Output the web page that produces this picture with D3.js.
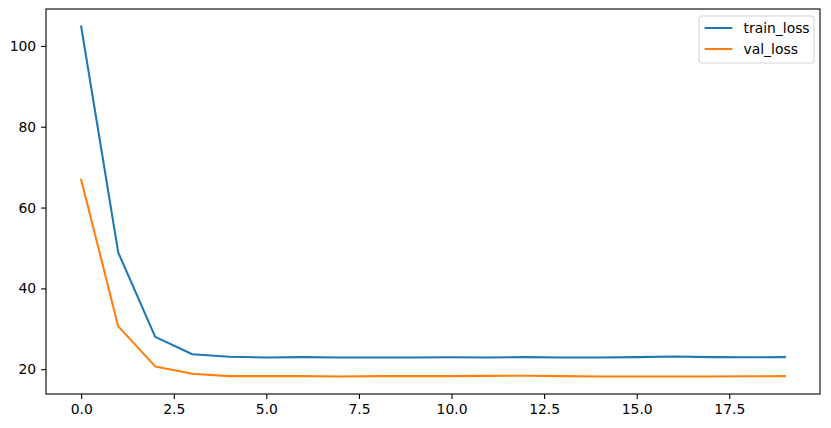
<!DOCTYPE html>
<html lang="en">
<head>
<meta charset="UTF-8"/>
<title>Loss curves</title>
<script src="https://d3js.org/d3.v7.min.js"></script>
<style>
  body { margin: 0; background: #fff; }
  text { font-family: "DejaVu Sans", sans-serif; }
</style>
</head>
<body>
<div id="chart"></div>
<script>
// data
var epochs = d3.range(20);
var trainLoss = [104.8, 48.9, 28.0, 23.7, 23.1, 22.9, 23.0, 22.9, 22.9, 22.9, 22.95, 22.9, 23.0, 22.9, 22.9, 23.0, 23.15, 23.0, 22.95, 23.0];
var valLoss = [66.9, 30.6, 20.7, 18.9, 18.3, 18.3, 18.3, 18.2, 18.3, 18.3, 18.3, 18.35, 18.4, 18.3, 18.2, 18.2, 18.2, 18.2, 18.25, 18.3];
var seriesNames = ["train_loss", "val_loss"];
var colors = ["#1f77b4", "#ff7f0e"];
var xTicks = [0, 2.5, 5, 7.5, 10, 12.5, 15, 17.5];
var yTicks = [20, 40, 60, 80, 100];

var w = 831, h = 428;
var fs = 13.9; // 10pt at 100 dpi
// plot area (window.top is reserved, so use a box object)
var box = { left: 46, right: 820, top: 9, bottom: 394 };

var svg = d3.select("#chart").append("svg")
    .attr("width", w).attr("height", h);

// matplotlib-style 5% margins
var xPad = (d3.max(epochs) - d3.min(epochs)) * 0.05;
var xScale = d3.scaleLinear()
    .domain([d3.min(epochs) - xPad, d3.max(epochs) + xPad])
    .range([box.left, box.right]);

var allVals = trainLoss.concat(valLoss);
var yMin = d3.min(allVals), yMax = d3.max(allVals);
var yPad = (yMax - yMin) * 0.05;
var yScale = d3.scaleLinear()
    .domain([yMin - yPad, yMax + yPad])
    .range([box.bottom, box.top]);

var xAxis = d3.axisBottom(xScale).tickValues(xTicks).tickFormat(d3.format(".1f")).tickSizeOuter(0).tickSize(4.9).tickPadding(4.9);
var yAxis = d3.axisLeft(yScale).tickValues(yTicks).tickSizeOuter(0).tickSize(4.9).tickPadding(4.9);

var gx = svg.append("g").attr("transform", "translate(0," + box.bottom + ")").call(xAxis);
var gy = svg.append("g").attr("transform", "translate(" + box.left + ",0)").call(yAxis);
[gx, gy].forEach(function(g) {
  g.select(".domain").remove();
  g.selectAll("text").attr("font-size", fs + "px").attr("fill", "#000").style("font-family", "DejaVu Sans");
  g.selectAll("line").attr("stroke", "#000").attr("stroke-width", 1.1);
});

var line = d3.line()
    .x(function(d, i) { return xScale(epochs[i]); })
    .y(function(d) { return yScale(d); });

[trainLoss, valLoss].forEach(function(s, k) {
  svg.append("path")
     .datum(s)
     .attr("d", line)
     .attr("fill", "none")
     .attr("stroke", colors[k])
     .attr("stroke-width", 2.08)
     .attr("stroke-linejoin", "round")
     .attr("stroke-linecap", "square");
});

// frame
svg.append("rect")
   .attr("x", box.left).attr("y", box.top)
   .attr("width", box.right - box.left).attr("height", box.bottom - box.top)
   .attr("fill", "none").attr("stroke", "#000").attr("stroke-width", 1.1);

// legend
var lg = svg.append("g").attr("transform", "translate(699,16)");
lg.append("rect")
  .attr("width", 115).attr("height", 47).attr("rx", 2.8)
  .attr("fill", "#fff").attr("fill-opacity", 0.8)
  .attr("stroke", "#d6d6d6").attr("stroke-width", 1.1);
seriesNames.forEach(function(name, k) {
  var yy = 12 + k * 21;
  lg.append("line")
    .attr("x1", 5.6).attr("x2", 33.4).attr("y1", yy).attr("y2", yy)
    .attr("stroke", colors[k]).attr("stroke-width", 2.08);
  lg.append("text")
    .attr("x", 44.5).attr("y", yy + 5)
    .attr("font-size", fs + "px")
    .text(name);
});
</script>
</body>
</html>
